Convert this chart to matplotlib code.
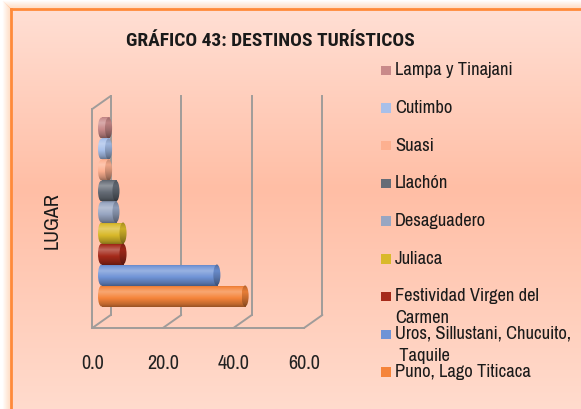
import numpy as np
import matplotlib.pyplot as plt
from matplotlib.patches import Ellipse, Rectangle, ConnectionPatch
from matplotlib.lines import Line2D
from matplotlib.transforms import ScaledTranslation
from matplotlib.colors import to_rgb

plt.rcParams['font.family'] = ['Liberation Sans Narrow', 'Archivo Narrow', 'DejaVu Sans']

# destinos (de abajo hacia arriba) y porcentajes
lugares = ["Puno, Lago Titicaca", "Uros, Sillustani, Chucuito, Taquile",
           "Festividad Virgen del Carmen", "Juliaca", "Desaguadero", "Llachón",
           "Suasi", "Cutimbo", "Lampa y Tinajani"]
etiquetas = ["Puno, Lago Titicaca", "Uros, Sillustani, Chucuito,\n Taquile",
             "Festividad Virgen del\nCarmen", "Juliaca", "Desaguadero", "Llachón",
             "Suasi", "Cutimbo", "Lampa y Tinajani"]
porcentajes = [40.7, 32.7, 6.1, 6.1, 4.1, 4.1, 2.0, 2.0, 2.0]
colores = ["#F5843A", "#6F93D6", "#A52A1A", "#D9B92A", "#98A6C2", "#656C76",
           "#FDB090", "#A8C0EA", "#C98A8A"]
marcas_x = [0, 20, 40, 60]

W, H = 581, 409
fig = plt.figure(figsize=(W / 100, H / 100), dpi=100)
fig.patch.set_facecolor("white")

# fondo degradado dentro del marco naranja
bg = fig.add_axes([11 / W, 0, 1 - 11 / W, 1 - 9 / H])
bg.set_axis_off()
t = np.linspace(0, 1, 300)
stops = [0, 0.45, 1]
c_top, c_mid, c_bot = to_rgb("#FFDFD4"), to_rgb("#FFBEA5"), to_rgb("#FFDBCD")
grad = np.stack([np.interp(t, stops, [c_top[k], c_mid[k], c_bot[k]]) for k in range(3)], axis=-1)
bg.imshow(grad[:, None, :], aspect="auto", extent=(0, 1, 0, 1))
bg.set_xlim(0, 1)
bg.set_ylim(0, 1)

# marco naranja con un poco de resplandor
x0, y0 = 11 / W, 1 - 9 / H
for k in range(1, 9):
    a = 0.35 * (1 - k / 9)
    fig.add_artist(Line2D([(11 - k) / W] * 2, [0, 1 - (9 - k) / H], color="#FF9A50", lw=0.8, alpha=a))
    fig.add_artist(Line2D([(11 - k) / W, 1], [1 - (9 - k) / H] * 2, color="#FF9A50", lw=0.8, alpha=a))
fig.add_artist(Line2D([x0, x0], [0, y0], color="#FF8A3A", lw=2.0))
fig.add_artist(Line2D([x0, 1], [y0, y0], color="#FF8A3A", lw=2.0))

# ejes principales = plano frontal del grafico 3D
ax = fig.add_axes([92.3 / W, (H - 328) / H, (304 - 92.3) / W, (328 - 109) / H])
ax.patch.set_alpha(0)
for s in ax.spines.values():
    s.set_visible(False)
ax.set_xlim(0, 60)
ax.set_ylim(-1.214, 9.214)
ax.set_yticks([])
ax.set_xticks(marcas_x)
ax.set_xticklabels([f"{m:.1f}" for m in marcas_x])
ax.tick_params(axis="x", length=0, pad=19, labelsize=14.5, labelcolor="#222222")

# desplazamientos de profundidad
fondo = ax.transData + ScaledTranslation(18.4 / 100, 13 / 100, fig.dpi_scale_trans)
medio = ax.transData + ScaledTranslation(9.2 / 100, 6.5 / 100, fig.dpi_scale_trans)

ylo, yhi = ax.get_ylim()
gris = "#A09C9A"
for m in marcas_x:
    ax.plot([m, m], [ylo, yhi], color=gris, lw=1.4, transform=fondo, zorder=1, clip_on=False)
    ax.add_artist(ConnectionPatch((m, ylo), (m, ylo), coordsA=ax.transData, coordsB=fondo,
                                  color=gris, lw=1.4, zorder=1))
ax.plot([0, 0], [ylo, yhi], color=gris, lw=1.4, zorder=1, clip_on=False)
ax.plot([0, 60], [ylo, ylo], color=gris, lw=1.4, zorder=1, clip_on=False)
ax.add_artist(ConnectionPatch((0, yhi), (0, yhi), coordsA=ax.transData, coordsB=fondo,
                              color=gris, lw=1.4, zorder=1))

# perfil de sombreado del cilindro (arriba -> abajo)
perfil_t = [0, 0.07, 0.3, 0.6, 0.88, 1]
perfil_f = [0.78, 1.0, 1.18, 1.0, 0.78, 0.62]
tt = np.linspace(0, 1, 60)
ff = np.interp(tt, perfil_t, perfil_f)


def sombreado(color, escala=1.0):
    base = np.array(to_rgb(color))
    out = []
    for f in ff * escala:
        if f >= 1:
            out.append(base + (1 - base) * (f - 1) * 1.6)
        else:
            out.append(base * f)
    return np.clip(np.array(out), 0, 1)[:, None, :]


capa = 2.0  # ancho de la tapa eliptica en unidades del eje x
barras = ax.barh(range(len(porcentajes)), porcentajes, height=1.0, color="none",
                 transform=medio, zorder=3, clip_on=False)
for i, (v, c, b) in enumerate(zip(porcentajes, colores, barras)):
    cuerpo = sombreado(c)
    im = ax.imshow(cuerpo, aspect="auto", extent=(-capa / 2, v, i - 0.5, i + 0.5),
                   transform=medio, zorder=3, interpolation="bilinear")
    im.set_clip_path(b)
    izq = Ellipse((0, i), capa, 1.0, transform=medio, facecolor="none", edgecolor="none", clip_on=False)
    ax.add_patch(izq)
    im2 = ax.imshow(cuerpo, aspect="auto", extent=(-capa / 2, v, i - 0.5, i + 0.5),
                    transform=medio, zorder=3, interpolation="bilinear")
    im2.set_clip_path(izq)
    tapa = Ellipse((v, i), capa, 1.0, transform=medio, facecolor="none", edgecolor="none", clip_on=False)
    ax.add_patch(tapa)
    im3 = ax.imshow(sombreado(c, 0.8), aspect="auto", extent=(v - capa / 2, v + capa / 2, i - 0.5, i + 0.5),
                    transform=medio, zorder=4, interpolation="bilinear")
    im3.set_clip_path(tapa)
ax.set_xlim(0, 60)
ax.set_ylim(ylo, yhi)

# titulo y rotulo del eje
fig.text(270 / W, 1 - 41 / H, "GRÁFICO 43: DESTINOS TURÍSTICOS", ha="center", va="center",
         fontsize=14, fontweight="bold", color="#1A1A1A",
         family=["Roboto Condensed", "Barlow Semi Condensed", "Archivo Narrow", "DejaVu Sans"])
fig.text(52 / W, 1 - 220.5 / H, "LUGAR", rotation=90, ha="center", va="center",
         fontsize=14.5, color="#1A1A1A")

# leyenda a la derecha, de arriba hacia abajo
paso = 37.7
for k, i in enumerate(range(len(lugares) - 1, -1, -1)):
    yc = 70.3 + k * paso
    fig.add_artist(Rectangle((381.5 / W, 1 - (yc + 4.7) / H), 9.4 / W, 9.4 / H,
                             transform=fig.transFigure, facecolor=colores[i], edgecolor="none"))
    n = etiquetas[i].count("\n")
    fig.text(395 / W, 1 - (yc + n * 10.5) / H, etiquetas[i], ha="left", va="center",
             fontsize=13.3, color="#1A1A1A", linespacing=1.5)

fig.savefig("out.png", dpi=100)
